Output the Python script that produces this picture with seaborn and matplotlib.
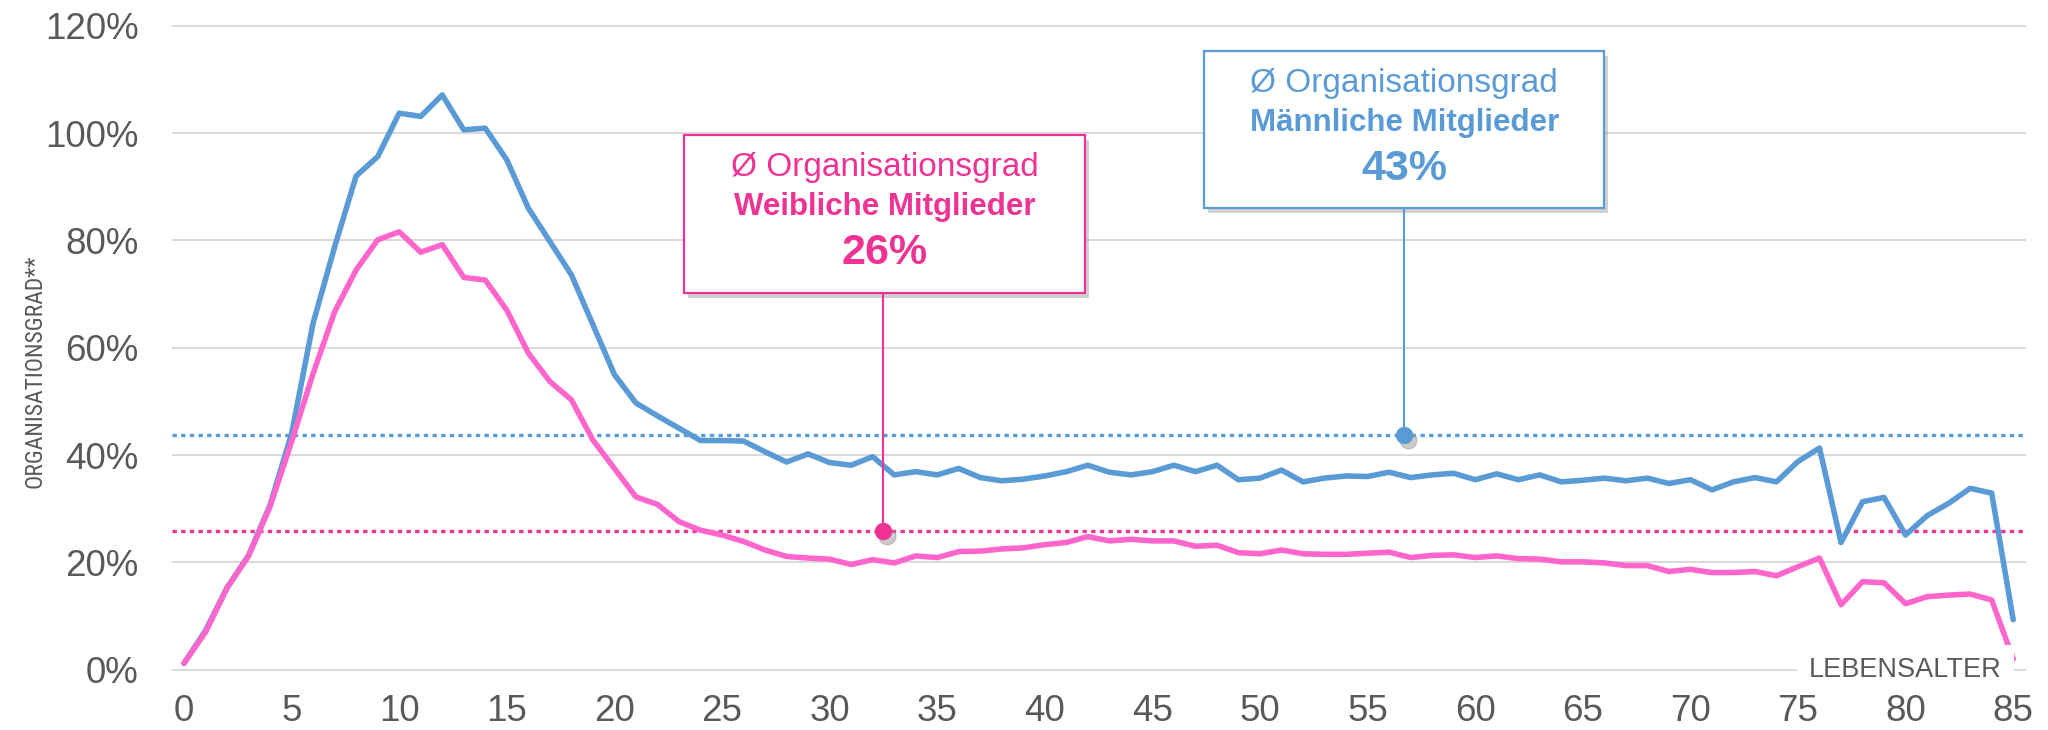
import numpy as np
import pandas as pd
import matplotlib
matplotlib.use("Agg")
import matplotlib.pyplot as plt
import matplotlib.transforms as mtransforms
from matplotlib import font_manager
from matplotlib.patches import Rectangle
from matplotlib.ticker import PercentFormatter
import seaborn as sns

# Lebensalter 0..85
alter = list(range(0, 86))

# Organisationsgrad in %, maennliche Mitglieder
maennlich = [1.2, 7.3, 15.3, 21.3, 30.7, 44.0, 64.6, 78.8, 92.0, 95.6,
             103.7, 103.1, 107.1, 100.6, 100.9, 95.0, 86.0, 79.8, 73.6, 64.3,
             55.0, 49.7, 47.3, 45.0, 42.7, 42.7, 42.6, 40.6, 38.7, 40.2,
             38.6, 38.1, 39.7, 36.3, 36.9, 36.3, 37.5, 35.8, 35.2, 35.5,
             36.1, 36.9, 38.1, 36.8, 36.3, 36.9, 38.1, 36.9, 38.1, 35.4,
             35.7, 37.2, 35.0, 35.7, 36.1, 36.0, 36.8, 35.8, 36.3, 36.6,
             35.4, 36.5, 35.4, 36.3, 35.0, 35.3, 35.7, 35.2, 35.7, 34.7,
             35.4, 33.5, 35.0, 35.8, 35.0, 38.8, 41.3, 23.7, 31.3, 32.1,
             25.1, 28.7, 31.0, 33.8, 32.9, 9.3]

# Organisationsgrad in %, weibliche Mitglieder
weiblich = [1.2, 7.0, 15.2, 21.2, 30.4, 42.5, 55.2, 66.7, 74.5, 80.1,
            81.6, 77.8, 79.2, 73.1, 72.6, 67.0, 59.0, 53.7, 50.3, 42.8,
            37.5, 32.2, 30.8, 27.6, 26.0, 25.1, 23.9, 22.3, 21.1, 20.8,
            20.6, 19.6, 20.5, 19.9, 21.2, 20.9, 22.0, 22.1, 22.5, 22.7,
            23.3, 23.7, 24.8, 24.0, 24.3, 24.0, 24.0, 23.0, 23.2, 21.8,
            21.6, 22.3, 21.6, 21.5, 21.5, 21.7, 21.9, 20.9, 21.3, 21.4,
            20.9, 21.2, 20.7, 20.6, 20.1, 20.1, 19.9, 19.4, 19.4, 18.3,
            18.7, 18.1, 18.1, 18.3, 17.5, 19.2, 20.8, 12.1, 16.4, 16.2,
            12.3, 13.6, 13.9, 14.1, 13.0, 2.0]

# Durchschnitt (gepunktete Linien) und Beschriftung
avg_m = 43.7
avg_w = 25.9
label_m = "43%"
label_w = "26%"

xticks = list(range(0, 90, 5))
yticks = [0, 20, 40, 60, 80, 100, 120]

BLUE = "#5B9BD5"
PINK_LINE = "#FF66CC"
PINK = "#EE3394"
GRAY = "#595959"

df = pd.DataFrame({
    "alter": alter * 2,
    "grad": maennlich + weiblich,
    "gruppe": ["m"] * len(alter) + ["w"] * len(alter),
})

sns.set_style("white")
plt.rcParams["font.family"] = ["Liberation Sans", "DejaVu Sans"]

# schmale Schrift fuer die y-Achsenbeschriftung, falls vorhanden
narrow = None
for fam in ["Liberation Sans Narrow", "Arial Narrow", "Roboto Condensed"]:
    try:
        font_manager.findfont(font_manager.FontProperties(family=fam),
                              fallback_to_default=False)
        narrow = fam
        break
    except Exception:
        pass

fig = plt.figure(figsize=(20.48, 7.3), dpi=100)
ax = fig.add_axes([0.08396, 0.07525, 0.90535, 0.8969])

ax.axhline(avg_m, color=BLUE, lw=2.4, ls=(0, (1.3, 1.3)), zorder=2)
ax.axhline(avg_w, color=PINK, lw=2.4, ls=(0, (1.3, 1.3)), zorder=2)

sns.lineplot(data=df, x="alter", y="grad", hue="gruppe",
             palette={"m": BLUE, "w": PINK_LINE}, linewidth=4.0,
             legend=False, ax=ax, zorder=3)

ax.set_xlim(-0.56, 85.6)
ax.set_ylim(-1, 121)
ax.set_xticks(xticks)
ax.set_yticks(yticks)
ax.yaxis.set_major_formatter(PercentFormatter(xmax=100, decimals=0))
ax.grid(axis="y", color="#D9D9D9", lw=1.4)
ax.grid(axis="x", visible=False)
ax.set_axisbelow(True)
for s in ax.spines.values():
    s.set_visible(False)
ax.tick_params(axis="both", length=0, labelsize=26.5, colors=GRAY)
ax.tick_params(axis="x", pad=13.5)
ax.tick_params(axis="y", pad=24)
ax.set_xlabel("")
if narrow:
    ax.set_ylabel("ORGANISATIONSGRAD**", fontsize=17, color=GRAY,
                  family=[narrow, "Liberation Sans"])
else:
    ax.set_ylabel("ORGANISATIONSGRAD**", fontsize=13.5, color=GRAY)
ax.yaxis.set_label_coords(-0.0674, 0.4644)

ax.text(80, 0, "LEBENSALTER", ha="center", va="center", fontsize=19.5,
        color=GRAY, zorder=10,
        bbox=dict(boxstyle="square,pad=0.45", fc="white", ec="none"))

shadow = mtransforms.offset_copy(ax.transData, fig=fig, x=4, y=-5, units="dots")


def info_box(x0, x1, y0, y1, xdot, yavg, color, gruppe, wert):
    ax.add_patch(Rectangle((x0, y0), x1 - x0, y1 - y0, transform=shadow,
                           fc="#9a9a9a", ec="none", alpha=0.45, zorder=5))
    ax.add_patch(Rectangle((x0, y0), x1 - x0, y1 - y0, fc="white",
                           ec=color, lw=1.6, zorder=6))
    ax.plot([xdot, xdot], [y0, yavg], color=color, lw=1.5, zorder=5)
    ax.plot([xdot], [yavg], "o", ms=12, color="#9a9a9a", alpha=0.5,
            transform=shadow, zorder=4)
    ax.plot([xdot], [yavg], "o", ms=11.5, color=color, zorder=6)
    h = y1 - y0
    xc = (x0 + x1) / 2
    ax.text(xc, y1 - 0.21 * h, "Ø Organisationsgrad", ha="center",
            va="center", fontsize=24, color=color, zorder=7)
    ax.text(xc, y1 - 0.46 * h, gruppe, ha="center", va="center",
            fontsize=22.5, fontweight="bold", color=color, zorder=7)
    ax.text(xc, y1 - 0.75 * h, wert, ha="center", va="center",
            fontsize=31, fontweight="bold", color=color, zorder=7)


info_box(23.23, 41.87, 70.2, 99.7, 32.5, avg_w, PINK,
         "Weibliche Mitglieder", label_w)
info_box(47.4, 66.0, 86.0, 115.3, 56.7, avg_m, BLUE,
         "Männliche Mitglieder", label_m)

fig.savefig("out.png", dpi=100)
